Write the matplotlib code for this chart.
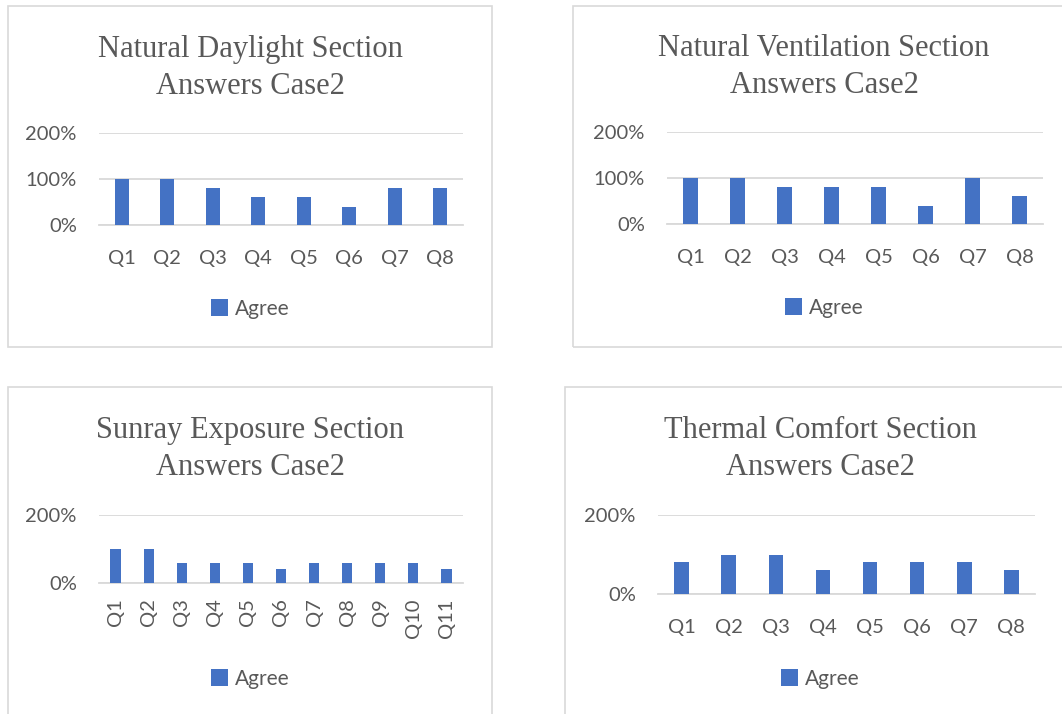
import matplotlib
matplotlib.use('Agg')
import matplotlib.pyplot as plt
from matplotlib.patches import Rectangle

# Data
q8 = ['Q1', 'Q2', 'Q3', 'Q4', 'Q5', 'Q6', 'Q7', 'Q8']
q11 = ['Q1', 'Q2', 'Q3', 'Q4', 'Q5', 'Q6', 'Q7', 'Q8', 'Q9', 'Q10', 'Q11']

daylight = [1.0, 1.0, 0.8, 0.6, 0.6, 0.4, 0.8, 0.8]
ventilation = [1.0, 1.0, 0.8, 0.8, 0.8, 0.4, 1.0, 0.6]
sunray = [1.0, 1.0, 0.6, 0.6, 0.6, 0.4, 0.6, 0.6, 0.6, 0.6, 0.4]
thermal = [0.8, 1.0, 1.0, 0.6, 0.8, 0.8, 0.8, 0.6]

titles = ['Natural Daylight Section\nAnswers Case2',
          'Natural Ventilation Section\nAnswers Case2',
          'Sunray Exposure Section\nAnswers Case2',
          'Thermal Comfort Section\nAnswers Case2']

W, H = 1062, 714
BLUE = '#4472C4'
GREY = '#595959'
GRID = '#d9d9d9'
TICKFONT = 'Lato'
TS = 14.5

fig = plt.figure(figsize=(W / 100, H / 100), dpi=100)


def frac(x0, y0, x1, y1):
    return [x0 / W, 1 - y1 / H, (x1 - x0) / W, (y1 - y0) / H]


def panel(box, plot, title_y, legend_y, cats, vals, title, yticks, ylabels, rot=0):
    x0, y0, x1, y1 = box
    fig.add_artist(Rectangle((x0 / W, 1 - y1 / H), (x1 - x0) / W, (y1 - y0) / H,
                             transform=fig.transFigure, fill=False,
                             edgecolor=GRID, linewidth=1.2))
    cx = (x0 + x1) / 2
    fig.text(cx / W, 1 - title_y / H, title, ha='center', va='center',
             family='Liberation Serif', fontsize=22, color=GREY, linespacing=1.4)

    ax = fig.add_axes(frac(*plot))
    bars = ax.bar(range(len(cats)), vals, width=0.31, color=BLUE, label='Agree', zorder=3)
    ax.set_xlim(-0.5, len(cats) - 0.5)
    ax.set_ylim(0, 2)
    ax.set_yticks(yticks)
    ax.set_yticklabels(ylabels, family=TICKFONT, fontsize=TS, color=GREY)
    ax.set_xticks(range(len(cats)))
    ax.set_xticklabels(cats, family=TICKFONT, fontsize=TS, color=GREY, rotation=rot)
    ax.tick_params(axis='x', length=0, pad=11 if rot else 18)
    ax.tick_params(axis='y', length=0, pad=16)
    ax.yaxis.grid(True, color=GRID, linewidth=1.3, zorder=0)
    ax.set_axisbelow(True)
    for s in ax.spines.values():
        s.set_visible(False)
    ax.spines['bottom'].set_visible(True)
    ax.spines['bottom'].set_color(GRID)
    ax.spines['bottom'].set_linewidth(1.3)
    ax.patch.set_alpha(0)

    lx = cx / W
    ly = 1 - legend_y / H
    fig.legend(handles=[bars], labels=['Agree'], loc='center', bbox_to_anchor=(lx, ly),
               frameon=False, handlelength=0.85, handleheight=0.85, handletextpad=0.3,
               prop={'family': TICKFONT, 'size': 15}, labelcolor=GREY)
    return ax


panel((8, 6, 492, 347), (99, 133, 463, 225), 68, 309, q8, daylight, titles[0],
      [0, 1, 2], ['0%', '100%', '200%'])
panel((573, 6, 1075, 347), (667, 132, 1043, 224), 67, 308, q8, ventilation, titles[1],
      [0, 1, 2], ['0%', '100%', '200%'])
panel((8, 387, 492, 720), (99, 515, 463, 583), 449, 679, q11, sunray, titles[2],
      [0, 2], ['0%', '200%'], rot=90)
panel((565, 387, 1075, 720), (658, 515, 1035, 594), 449, 679, q8, thermal, titles[3],
      [0, 2], ['0%', '200%'])

fig.savefig('out.png', dpi=100)
